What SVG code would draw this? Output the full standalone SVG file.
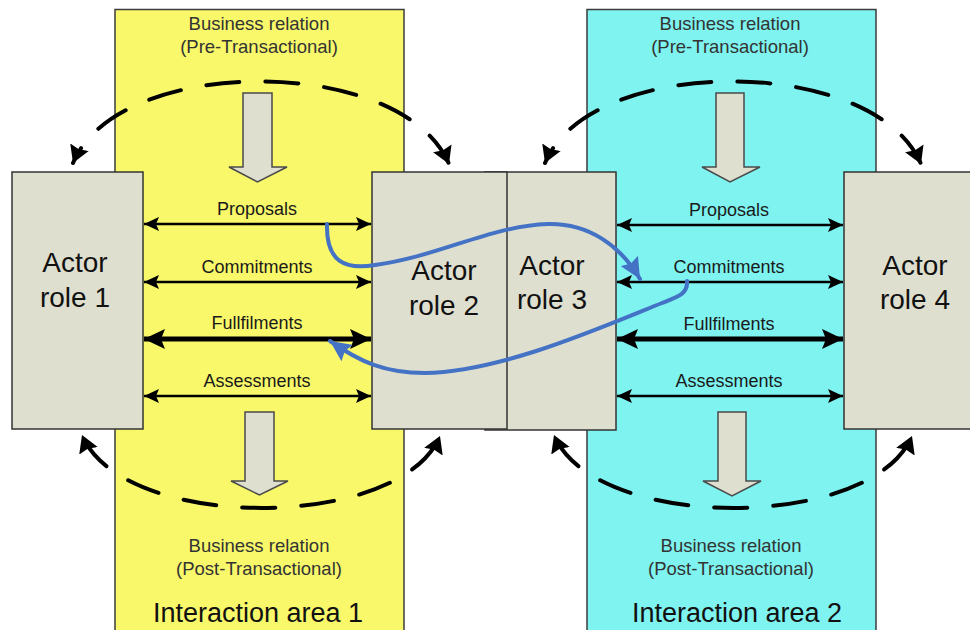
<svg xmlns="http://www.w3.org/2000/svg" width="970" height="630" viewBox="0 0 970 630">
  <style>
    text { font-family: "Liberation Sans", Arial, sans-serif; text-anchor: middle; }
    .area-box { stroke: #3c3c3c; stroke-width: 1.5; }
    .actor-box { fill: #dedfcf; stroke: #333; stroke-width: 1.5; }
    .block { fill: #dedfcf; stroke: #4a4a4a; stroke-width: 1.5; stroke-linejoin: miter; }
    .rel { font-size: 18.5px; fill: #333; }
    .lbl { font-size: 18px; fill: #1a1a1a; }
    .actor { font-size: 28px; fill: #111; }
    .area { font-size: 27px; fill: #111; }
    .flow { stroke: #000; stroke-width: 2.5; fill: none; marker-start: url(#head); marker-end: url(#head); }
    .flow-bold { stroke: #000; stroke-width: 5; fill: none; marker-start: url(#head-big); marker-end: url(#head-big); }
    .cycle { stroke: #000; stroke-width: 4; fill: none; stroke-linecap: round; stroke-dasharray: 33 26; marker-start: url(#cyc); marker-end: url(#cyc); }
    .cycle.top { stroke-dashoffset: 16; }
    .cycle.bottom { stroke-dashoffset: 52; }
    .link { stroke: #4472c4; stroke-width: 4; fill: none; stroke-linecap: round; marker-end: url(#blue); }
  </style>
  <defs>
    <marker id="head" markerUnits="userSpaceOnUse" viewBox="0 0 16 14" markerWidth="16" markerHeight="14" refX="15" refY="7" orient="auto-start-reverse">
      <path d="M0,0 L15,7 L0,14 L3,7 Z" fill="#000"/>
    </marker>
    <marker id="head-big" markerUnits="userSpaceOnUse" viewBox="0 0 22 20" markerWidth="22" markerHeight="20" refX="21" refY="10" orient="auto-start-reverse">
      <path d="M0,0 L21,10 L0,20 L4,10 Z" fill="#000"/>
    </marker>
    <marker id="cyc" markerUnits="userSpaceOnUse" viewBox="0 0 18 20" markerWidth="18" markerHeight="20" refX="17" refY="10" orient="auto-start-reverse">
      <path d="M0,0 L17,10 L0,20 L2,10 Z" fill="#000"/>
    </marker>
    <marker id="blue" markerUnits="userSpaceOnUse" viewBox="0 0 22 20" markerWidth="22" markerHeight="20" refX="21" refY="10" orient="auto">
      <path d="M0,0 L21,10 L0,20 L3,10 Z" fill="#4472c4"/>
    </marker>
  </defs>

  <rect width="970" height="630" fill="#fff"/>

  <!-- Interaction area 1 -->
  <g id="area1">
    <rect class="area-box" x="115" y="9.5" width="289" height="640" fill="#f8f86a"/>
    <text class="rel" x="259" y="30">Business relation</text>
    <text class="rel" x="259" y="53">(Pre-Transactional)</text>
    <polygon id="pre1" class="block" points="243,93 272,93 272,167 287,167 257.5,182 229,167 243,167"/>
    <polygon id="post1" class="block" points="245,412 274,412 274,481 288,481 259.5,495 231,481 245,481"/>
    <text class="rel" x="259" y="552">Business relation</text>
    <text class="rel" x="259" y="575">(Post-Transactional)</text>
    <text class="area" x="258" y="622">Interaction area 1</text>
  </g>

  <!-- Interaction area 2 -->
  <g id="area2">
    <rect class="area-box" x="587" y="9.5" width="289" height="640" fill="#7ef3f0"/>
    <text class="rel" x="730" y="30">Business relation</text>
    <text class="rel" x="730" y="53">(Pre-Transactional)</text>
    <polygon id="pre2" class="block" points="716,93 744,93 744,167 760,167 730,182 702,167 716,167"/>
    <polygon id="post2" class="block" points="718,412 746,412 746,481 761,481 732,496 703,481 718,481"/>
    <text class="rel" x="731" y="552">Business relation</text>
    <text class="rel" x="731" y="575">(Post-Transactional)</text>
    <text class="area" x="737" y="622">Interaction area 2</text>
  </g>

  <!-- Actor roles -->
  <g id="actor1">
    <rect class="actor-box" x="12" y="172" width="131" height="257"/>
    <text class="actor" x="75" y="272">Actor</text>
    <text class="actor" x="75" y="307">role 1</text>
  </g>
  <g id="actor3">
    <rect class="actor-box" x="485" y="172" width="131" height="258"/>
    <text class="actor" x="552" y="275">Actor</text>
    <text class="actor" x="552" y="309">role 3</text>
  </g>
  <g id="actor2">
    <rect class="actor-box" x="372" y="172" width="135" height="257"/>
    <text class="actor" x="444" y="280">Actor</text>
    <text class="actor" x="444" y="315">role 2</text>
  </g>
  <g id="actor4">
    <rect class="actor-box" x="844" y="172" width="142" height="257"/>
    <text class="actor" x="915" y="275">Actor</text>
    <text class="actor" x="915" y="309">role 4</text>
  </g>

  <g id="connectors">
    <!-- exchanges in area 1 -->
    <text class="lbl" x="257" y="215">Proposals</text>
    <line class="flow" x1="144" y1="224" x2="371" y2="224"/>
    <text class="lbl" x="257" y="273">Commitments</text>
    <line class="flow" x1="144" y1="282" x2="371" y2="282"/>
    <text class="lbl" x="257" y="329">Fullfilments</text>
    <line class="flow-bold" x1="144" y1="339" x2="371" y2="339"/>
    <text class="lbl" x="257" y="387">Assessments</text>
    <line class="flow" x1="144" y1="396" x2="371" y2="396"/>

    <!-- exchanges in area 2 -->
    <text class="lbl" x="729" y="216">Proposals</text>
    <line class="flow" x1="617" y1="225" x2="843" y2="225"/>
    <text class="lbl" x="729" y="273">Commitments</text>
    <line class="flow" x1="617" y1="282" x2="843" y2="282"/>
    <text class="lbl" x="729" y="330">Fullfilments</text>
    <line class="flow-bold" x1="617" y1="339" x2="843" y2="339"/>
    <text class="lbl" x="729" y="387">Assessments</text>
    <line class="flow" x1="617" y1="396" x2="843" y2="396"/>

    <!-- relation cycles -->
    <path class="cycle top" d="M73,163 C118,54 402,54 449,164"/>
    <path class="cycle bottom" d="M82,435 C122,532 400,532 440,436"/>
    <path class="cycle top" d="M545,163 C590,54 874,54 921,164"/>
    <path class="cycle bottom" d="M554,435 C594,532 872,532 912,436"/>

    <!-- cross-area links -->
    <path class="link" d="M327,224 C326,262 345,270 375,265 C440,256 490,226 548,224 C588,223 620,245 640,279"/>
    <path class="link" d="M687,281 C688,293 680,296 662,303 C600,328 500,372 425,373 C385,373 360,362 330,341"/>
  </g>
</svg>
